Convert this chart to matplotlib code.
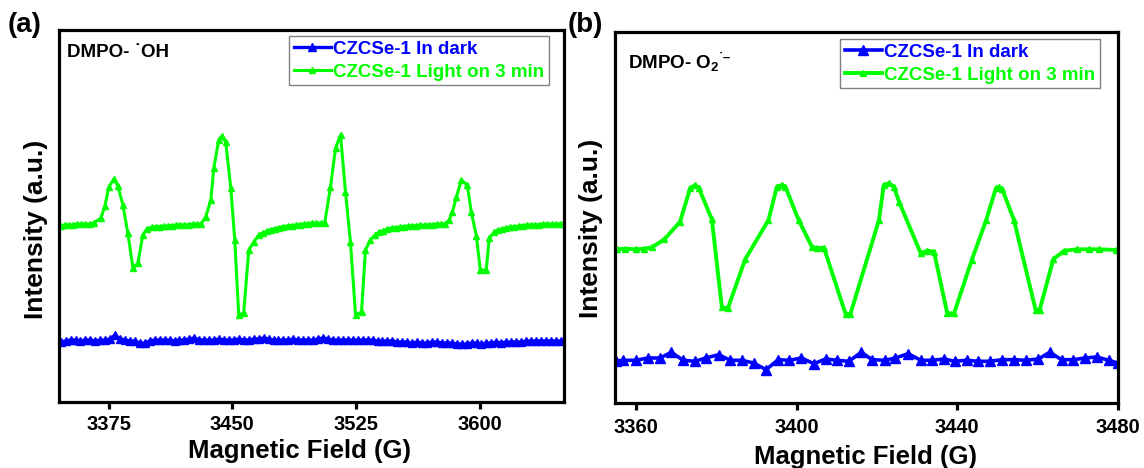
import matplotlib
matplotlib.use("Agg")
import matplotlib.pyplot as plt

plt.rcParams['font.family'] = ['Liberation Sans', 'DejaVu Sans']
plt.rcParams['font.weight'] = 'bold'
plt.rcParams['mathtext.fontset'] = 'custom'
plt.rcParams['mathtext.rm'] = 'Liberation Sans:bold'
plt.rcParams['mathtext.it'] = 'Liberation Sans:bold'
plt.rcParams['mathtext.bf'] = 'Liberation Sans:bold'
plt.rcParams['mathtext.default'] = 'rm'

GREEN = '#00ff00'
BLUE = '#0000ff'

# ---------------- panel (a): DMPO- .OH ----------------
a_light_x = [3346, 3348.5, 3351, 3353.5, 3356, 3358.5, 3361, 3363.5, 3366,
             3370.4, 3372.8, 3375.2, 3378.3, 3380.7, 3383.7, 3386.7, 3389.8, 3392.8, 3395.8, 3398.2, 3401.3,
             3403.5, 3406, 3408.5, 3411, 3413.5, 3416, 3418.5, 3421, 3423.5, 3426, 3428.5, 3431,
             3433.9, 3437.0, 3438.8, 3441.8, 3443.6, 3446.0, 3449.1, 3451.5, 3453.9, 3456.9, 3460.0, 3463.0, 3466.0,
             3468.5, 3471, 3473.5, 3476, 3478.5, 3481, 3483.5, 3486, 3488.5, 3491, 3493.5, 3496, 3498.5, 3501, 3503.5, 3506,
             3509.5, 3512.6, 3515.6, 3518.6, 3521.6, 3524.7, 3528.3, 3530.7, 3533.7, 3536.5, 3539,
             3541.5, 3544, 3546.5, 3549, 3551.5, 3554, 3556.5, 3559, 3561.5, 3564, 3566.5, 3569, 3571.5, 3574, 3576.5, 3579,
             3581.5, 3583.4, 3585.8, 3588.8, 3592.4, 3594.8, 3597.9, 3600.3, 3603.9, 3605.7, 3608.8,
             3611, 3613.5, 3616, 3618.5, 3621, 3623.5, 3626, 3628.5, 3631, 3633.5, 3636, 3638.5, 3641, 3643.5, 3646, 3648.5, 3650.5]
a_light_y = [176, 177, 177, 177, 178, 178, 178, 178, 179,
             184, 196, 215, 223, 216, 197, 169, 134, 139, 167, 173, 175,
             175, 175.5, 176, 176, 176.5, 177, 177, 177, 177.5, 178, 178, 178,
             185, 202, 234, 262, 266, 260, 214, 162, 87, 89, 152, 160, 167,
             169, 171, 172.5, 173.5, 174.5, 175.5, 176, 176.5, 177, 177.5, 178, 178.5, 179, 179, 179, 179,
             215, 254, 267, 210, 160, 87, 90, 152, 162, 167, 170,
             171.5, 173, 174, 174.5, 175, 175.5, 176, 176, 176.5, 177, 177, 177, 177.5, 178, 178, 178,
             182, 190, 205, 222, 217, 190, 166, 132, 132, 164, 170,
             172, 173, 174, 175, 175.5, 176, 176.5, 177, 177, 177, 177.5, 178, 178, 178, 178, 178, 178]

a_dark_x = [3346, 3349, 3352, 3355, 3358, 3361, 3364, 3367, 3370, 3373,
            3376, 3379, 3382, 3385, 3388, 3391, 3394, 3397, 3400, 3403,
            3406, 3409, 3412, 3415, 3418, 3421, 3424, 3427, 3430, 3433,
            3436, 3439, 3442, 3445, 3448, 3451, 3454, 3457, 3460, 3463,
            3466, 3469, 3472, 3475, 3478, 3481, 3484, 3487, 3490, 3493,
            3496, 3499, 3502, 3505, 3508, 3511, 3514, 3517, 3520, 3523,
            3526, 3529, 3532, 3535, 3538, 3541, 3544, 3547, 3550, 3553,
            3556, 3559, 3562, 3565, 3568, 3571, 3574, 3577, 3580, 3583,
            3586, 3589, 3592, 3595, 3598, 3601, 3604, 3607, 3610, 3613,
            3616, 3619, 3622, 3625, 3628, 3631, 3634, 3637, 3640, 3643,
            3646, 3649]
a_dark_y = [60, 61, 62, 62, 61, 62, 62, 61, 62, 62,
            63, 67, 63, 62, 61, 61, 59, 59, 61, 62,
            62, 62, 62, 61, 62, 62, 63, 64, 62, 62,
            62, 62, 63, 62, 62, 62, 63, 62, 62, 63,
            63, 64, 63, 62, 62, 62, 62, 63, 62, 62,
            62, 62, 63, 64, 63, 62, 62, 62, 62, 62,
            62, 62, 62, 62, 61, 61, 61, 61, 60, 60,
            60, 59, 60, 59, 59, 60, 60, 59, 59, 59,
            58, 58, 58, 59, 59, 58, 59, 59, 60, 59,
            60, 60, 60, 60, 61, 61, 61, 61, 61, 61,
            61, 61]

a_xticks = [3375, 3450, 3525, 3600]

# ---------------- panel (b): DMPO- O2.- ----------------
b_light_x = [3355.2, 3357.3, 3360.0, 3362.1, 3364.0, 3367.1, 3371.0, 3373.5, 3374.8, 3375.7,
             3378.9, 3381.4, 3382.9, 3387.2, 3393.0, 3395.1, 3396.4, 3397.2, 3400.5, 3403.8,
             3405.1, 3406.8, 3412.2, 3413.4, 3420.5, 3421.7, 3423.0, 3424.2, 3425.5, 3430.9,
             3432.5, 3434.2, 3437.5, 3439.2, 3443.6, 3447.2, 3449.6, 3450.4, 3451.2, 3454.1,
             3459.5, 3460.5, 3463.9, 3466.6, 3469.9, 3472.7, 3475.3, 3479.5]
b_light_y = [153.7, 154.3, 153.7, 154.3, 155.7, 163.7, 181.3, 214.7, 218, 214.7,
             183.7, 95.7, 94.7, 143.7, 183, 216.3, 218, 216.3, 183, 156.3,
             154.7, 155.3, 89, 89, 183, 218, 219.7, 216.3, 201.3, 149.7,
             152.3, 151.3, 89.7, 89.7, 143, 183, 214.7, 216.3, 213.7, 183,
             93, 93, 143.7, 152.3, 153.7, 153.7, 153.7, 153]

b_dark_x = [3355.0, 3356.9, 3360.0, 3363.0, 3366.0, 3368.8, 3371.8, 3374.8, 3377.4, 3380.6, 3383.5,
            3386.4, 3389.3, 3392.4, 3395.4, 3398.2, 3401.2, 3404.3, 3407.2, 3410.1, 3413.0,
            3416.1, 3418.8, 3422.0, 3424.6, 3427.8, 3430.9, 3433.8, 3436.7, 3439.4, 3442.3,
            3445.2, 3448.1, 3451.2, 3454.1, 3457.0, 3460.2, 3463.0, 3466.0, 3468.9, 3471.8,
            3474.7, 3477.7, 3479.9]
b_dark_y = [42, 42.7, 42.7, 45, 45, 50.7, 42.7, 41.7, 45, 48.3, 42.7,
            42.7, 40, 33.3, 43.3, 42.7, 45, 39.3, 44, 42.7, 41.7,
            50.7, 43.3, 42.7, 45, 49.3, 42.7, 42.7, 44, 41.7, 42.7,
            41.7, 41.7, 43.3, 43.3, 42.7, 44, 50.7, 43.3, 43.3, 45,
            46, 42.7, 40]

b_xticks = [3360, 3400, 3440, 3480]

labels = ['CZCSe-1 In dark', 'CZCSe-1 Light on 3 min']

fig = plt.figure(figsize=(11.44, 4.68), dpi=100)
axA = fig.add_axes([59 / 1144, (468 - 402) / 468, 505 / 1144, 372 / 468])
axB = fig.add_axes([615 / 1144, (468 - 403) / 468, 503 / 1144, 371 / 468])


def style(ax, xlim, ylim, ticks):
    ax.set_xlim(*xlim)
    ax.set_ylim(*ylim)
    ax.set_xticks(ticks)
    ax.set_yticks([])
    for s in ax.spines.values():
        s.set_linewidth(2.3)
    ax.tick_params(axis='x', direction='out', length=5, width=2.3, labelsize=14.5, pad=4)
    for t in ax.get_xticklabels():
        t.set_fontweight('bold')
    ax.set_xlabel('Magnetic Field (G)', fontsize=18.5, fontweight='bold')
    ax.set_ylabel('Intensity (a.u.)', fontsize=19, fontweight='bold')


def style_legend(leg):
    leg.get_frame().set_linewidth(1.0)
    for txt, c in zip(leg.get_texts(), [BLUE, GREEN]):
        txt.set_color(c)


# panel a
axA.plot(a_dark_x, a_dark_y, color=BLUE, lw=2.4, marker='^', ms=6, label=labels[0])
axA.plot(a_light_x, a_light_y, color=GREEN, lw=2.2, marker='^', ms=4, label=labels[1])
style(axA, (3345, 3651), (0, 372), a_xticks)
axA.xaxis.set_label_coords(0.477, -0.100)
axA.yaxis.set_label_coords(-0.021, 0.465)
axA.text(0.015, 0.94, 'DMPO- \u02d9OH', transform=axA.transAxes, fontsize=13.5,
         fontweight='bold', va='center', ha='left')
legA = axA.legend(loc='upper right', bbox_to_anchor=(0.970, 0.984), fontsize=13.5,
                  frameon=True, fancybox=False, edgecolor='#808080', framealpha=1,
                  borderaxespad=0, borderpad=0.25, labelspacing=0.3, handlelength=2.0,
                  handletextpad=0.1, numpoints=1)
style_legend(legA)

# panel b
axB.plot(b_dark_x, b_dark_y, color=BLUE, lw=2.6, marker='^', ms=7.5, label=labels[0])
axB.plot(b_light_x, b_light_y, color=GREEN, lw=2.8, marker='^', ms=4.5, label=labels[1])
style(axB, (3354.8, 3480), (0, 371), b_xticks)
axB.tick_params(axis='x', pad=6)
axB.xaxis.set_label_coords(0.499, -0.112)
axB.yaxis.set_label_coords(-0.024, 0.47)
axB.text(0.025, 0.92, 'DMPO- O$_{2}$$^{\u02d9\u2013}$', transform=axB.transAxes, fontsize=13.5,
         fontweight='bold', va='center', ha='left')
legB = axB.legend(loc='upper right', bbox_to_anchor=(0.964, 0.981), fontsize=13.5,
                  frameon=True, fancybox=False, edgecolor='#808080', framealpha=1,
                  borderaxespad=0, borderpad=0.25, labelspacing=0.3, handlelength=2.0,
                  handletextpad=0.1, numpoints=1)
style_legend(legB)

fig.text(8 / 1144, 1 - 25 / 468, '(a)', fontsize=20, fontweight='bold', va='center', ha='left')
fig.text(568 / 1144, 1 - 25 / 468, '(b)', fontsize=20, fontweight='bold', va='center', ha='left')

fig.savefig('out.png', dpi=100)
